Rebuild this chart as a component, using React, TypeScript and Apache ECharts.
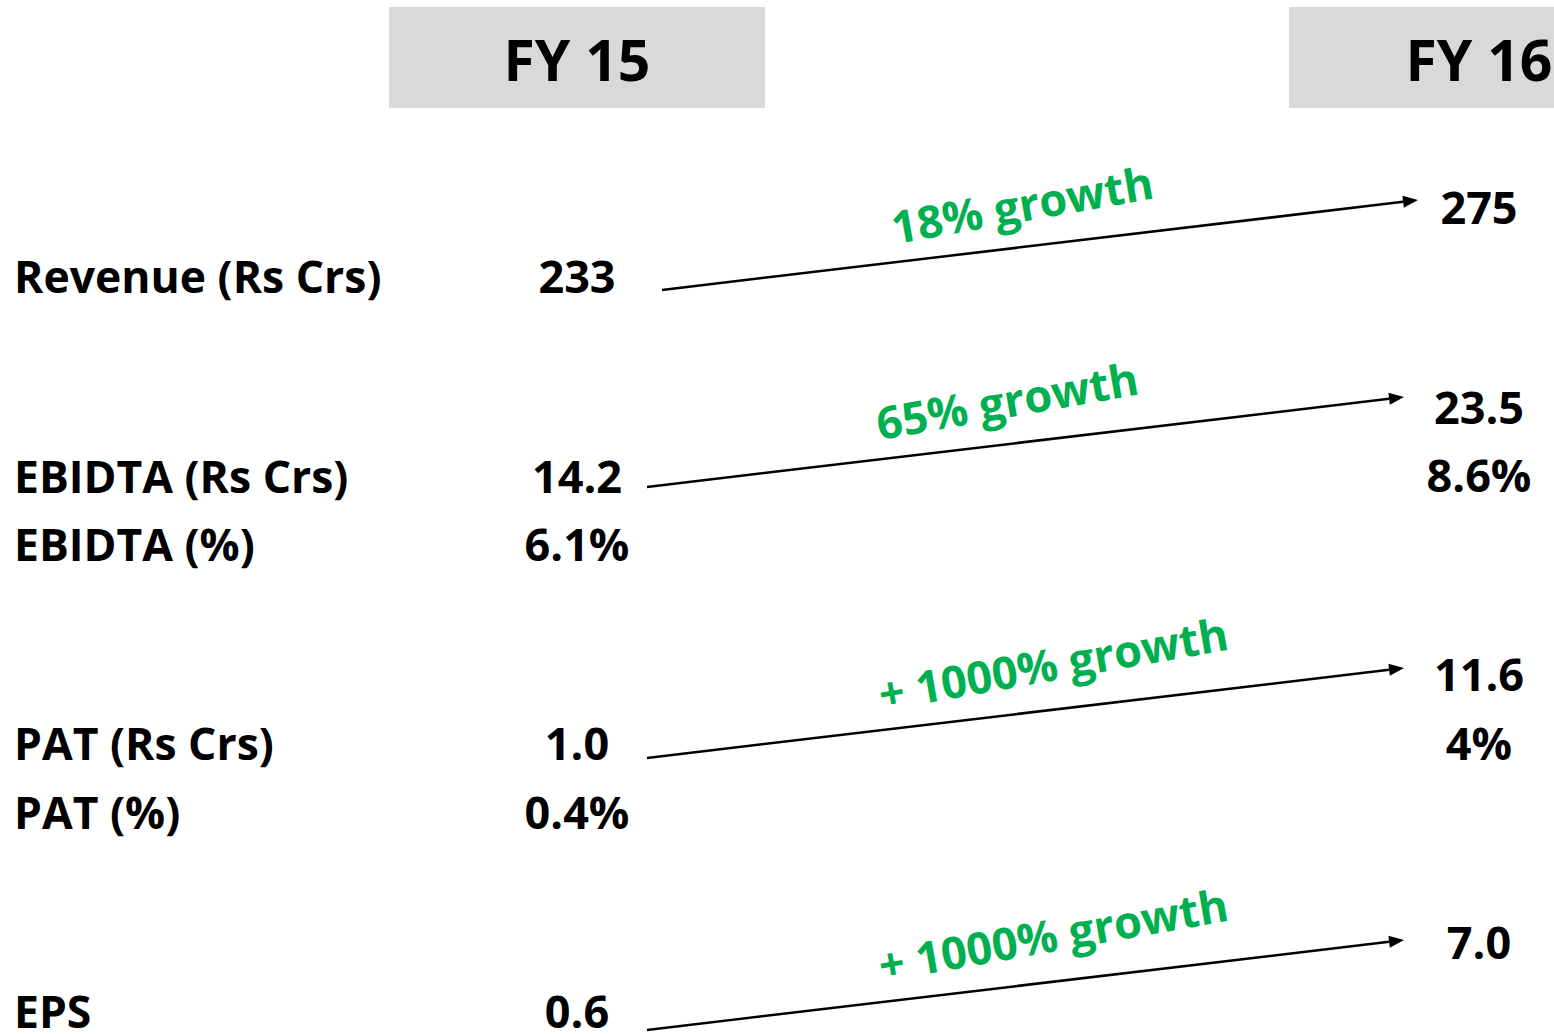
import React, { useEffect, useRef } from "react";
import * as echarts from "echarts";

// Column headings
const years = ["FY 15", "FY 16"];

// Metric names, one per row
const metrics = [
  "Revenue (Rs Crs)",
  "EBIDTA (Rs Crs)",
  "EBIDTA (%)",
  "PAT (Rs Crs)",
  "PAT (%)",
  "EPS",
];

// Values per year, in the same order as metrics
const fy15Values = [233, 14.2, 6.1, 1.0, 0.4, 0.6];
const fy16Values = [275, 23.5, 8.6, 11.6, 4, 7.0];
const decimals15 = [0, 1, 1, 1, 1, 1];
const decimals16 = [0, 1, 1, 1, 0, 1];
const isPercent = [false, false, true, false, true, false];

// Growth call-outs drawn along the arrows
const growthLabels = ["18% growth", "65% growth", "+ 1000% growth", "+ 1000% growth"];

const FONT = "'Open Sans', 'Noto Sans', sans-serif";
const GREEN = "#00B050";
const GREY = "#D9D9D9";

// Layout
const labelX = 14;
const colX = [577, 1479];
const rowY = [275, 475, 543, 742, 811, 1010];
const fy16Shift = -69;
const arrows = [
  { x1: 662, y1: 290, x2: 1418, y2: 200 },
  { x1: 647, y1: 487, x2: 1404, y2: 397 },
  { x1: 647, y1: 758, x2: 1404, y2: 668 },
  { x1: 647, y1: 1030, x2: 1404, y2: 940 },
];
const growthPos = [
  { x: 1022, y: 204 },
  { x: 1007, y: 400 },
  { x: 1053, y: 663 },
  { x: 1053, y: 934 },
];
const growthAngle = 10;

function fmt(v: number, d: number, pct: boolean) {
  return v.toFixed(d) + (pct ? "%" : "");
}

function arrowHead(x1: number, y1: number, x2: number, y2: number) {
  const ang = Math.atan2(y2 - y1, x2 - x1);
  const len = 15;
  const half = 6;
  const bx = x2 - len * Math.cos(ang);
  const by = y2 - len * Math.sin(ang);
  const nx = -Math.sin(ang);
  const ny = Math.cos(ang);
  return {
    base: [bx, by],
    points: [
      [x2, y2],
      [bx + nx * half, by + ny * half],
      [bx - nx * half, by - ny * half],
    ],
  };
}

export default function App() {
  const ref = useRef<HTMLDivElement>(null);

  useEffect(() => {
    if (!ref.current) return;
    const chart = echarts.init(ref.current, undefined, { renderer: "svg" });

    const elements: any[] = [];

    // Header boxes
    elements.push({
      type: "rect",
      shape: { x: 389, y: 7, width: 376, height: 101 },
      style: { fill: GREY },
    });
    elements.push({
      type: "rect",
      shape: { x: 1289, y: 7, width: 300, height: 101 },
      style: { fill: GREY },
    });
    years.forEach((y, i) => {
      elements.push({
        type: "text",
        x: colX[i],
        y: 59,
        style: {
          text: y,
          font: `bold 57px ${FONT}`,
          fill: "#000",
          align: "center",
          verticalAlign: "middle",
        },
      });
    });

    // Row labels and values
    metrics.forEach((m, i) => {
      elements.push({
        type: "text",
        x: labelX,
        y: rowY[i],
        style: {
          text: m,
          font: `bold 44.5px ${FONT}`,
          fill: "#000",
          align: "left",
          verticalAlign: "middle",
        },
      });
      elements.push({
        type: "text",
        x: colX[0],
        y: rowY[i],
        style: {
          text: fmt(fy15Values[i], decimals15[i], isPercent[i]),
          font: `bold 45px ${FONT}`,
          fill: "#000",
          align: "center",
          verticalAlign: "middle",
        },
      });
      elements.push({
        type: "text",
        x: colX[1],
        y: rowY[i] + fy16Shift,
        style: {
          text: fmt(fy16Values[i], decimals16[i], isPercent[i]),
          font: `bold 45px ${FONT}`,
          fill: "#000",
          align: "center",
          verticalAlign: "middle",
        },
      });
    });

    // Arrows with growth call-outs
    arrows.forEach((a, i) => {
      const head = arrowHead(a.x1, a.y1, a.x2, a.y2);
      elements.push({
        type: "line",
        shape: { x1: a.x1, y1: a.y1, x2: head.base[0], y2: head.base[1] },
        style: { stroke: "#000", lineWidth: 2.5 },
      });
      elements.push({
        type: "polygon",
        shape: { points: head.points },
        style: { fill: "#000" },
      });
      elements.push({
        type: "text",
        x: growthPos[i].x,
        y: growthPos[i].y,
        rotation: (growthAngle * Math.PI) / 180,
        style: {
          text: growthLabels[i],
          font: `bold 45px ${FONT}`,
          fill: GREEN,
          align: "center",
          verticalAlign: "middle",
        },
      });
    });

    chart.setOption({
      animation: false,
      backgroundColor: "#ffffff",
      graphic: { elements },
    });

    return () => chart.dispose();
  }, []);

  return (
    <div
      ref={ref}
      style={{ position: "fixed", left: 0, top: 0, width: 1554, height: 1034 }}
    />
  );
}
